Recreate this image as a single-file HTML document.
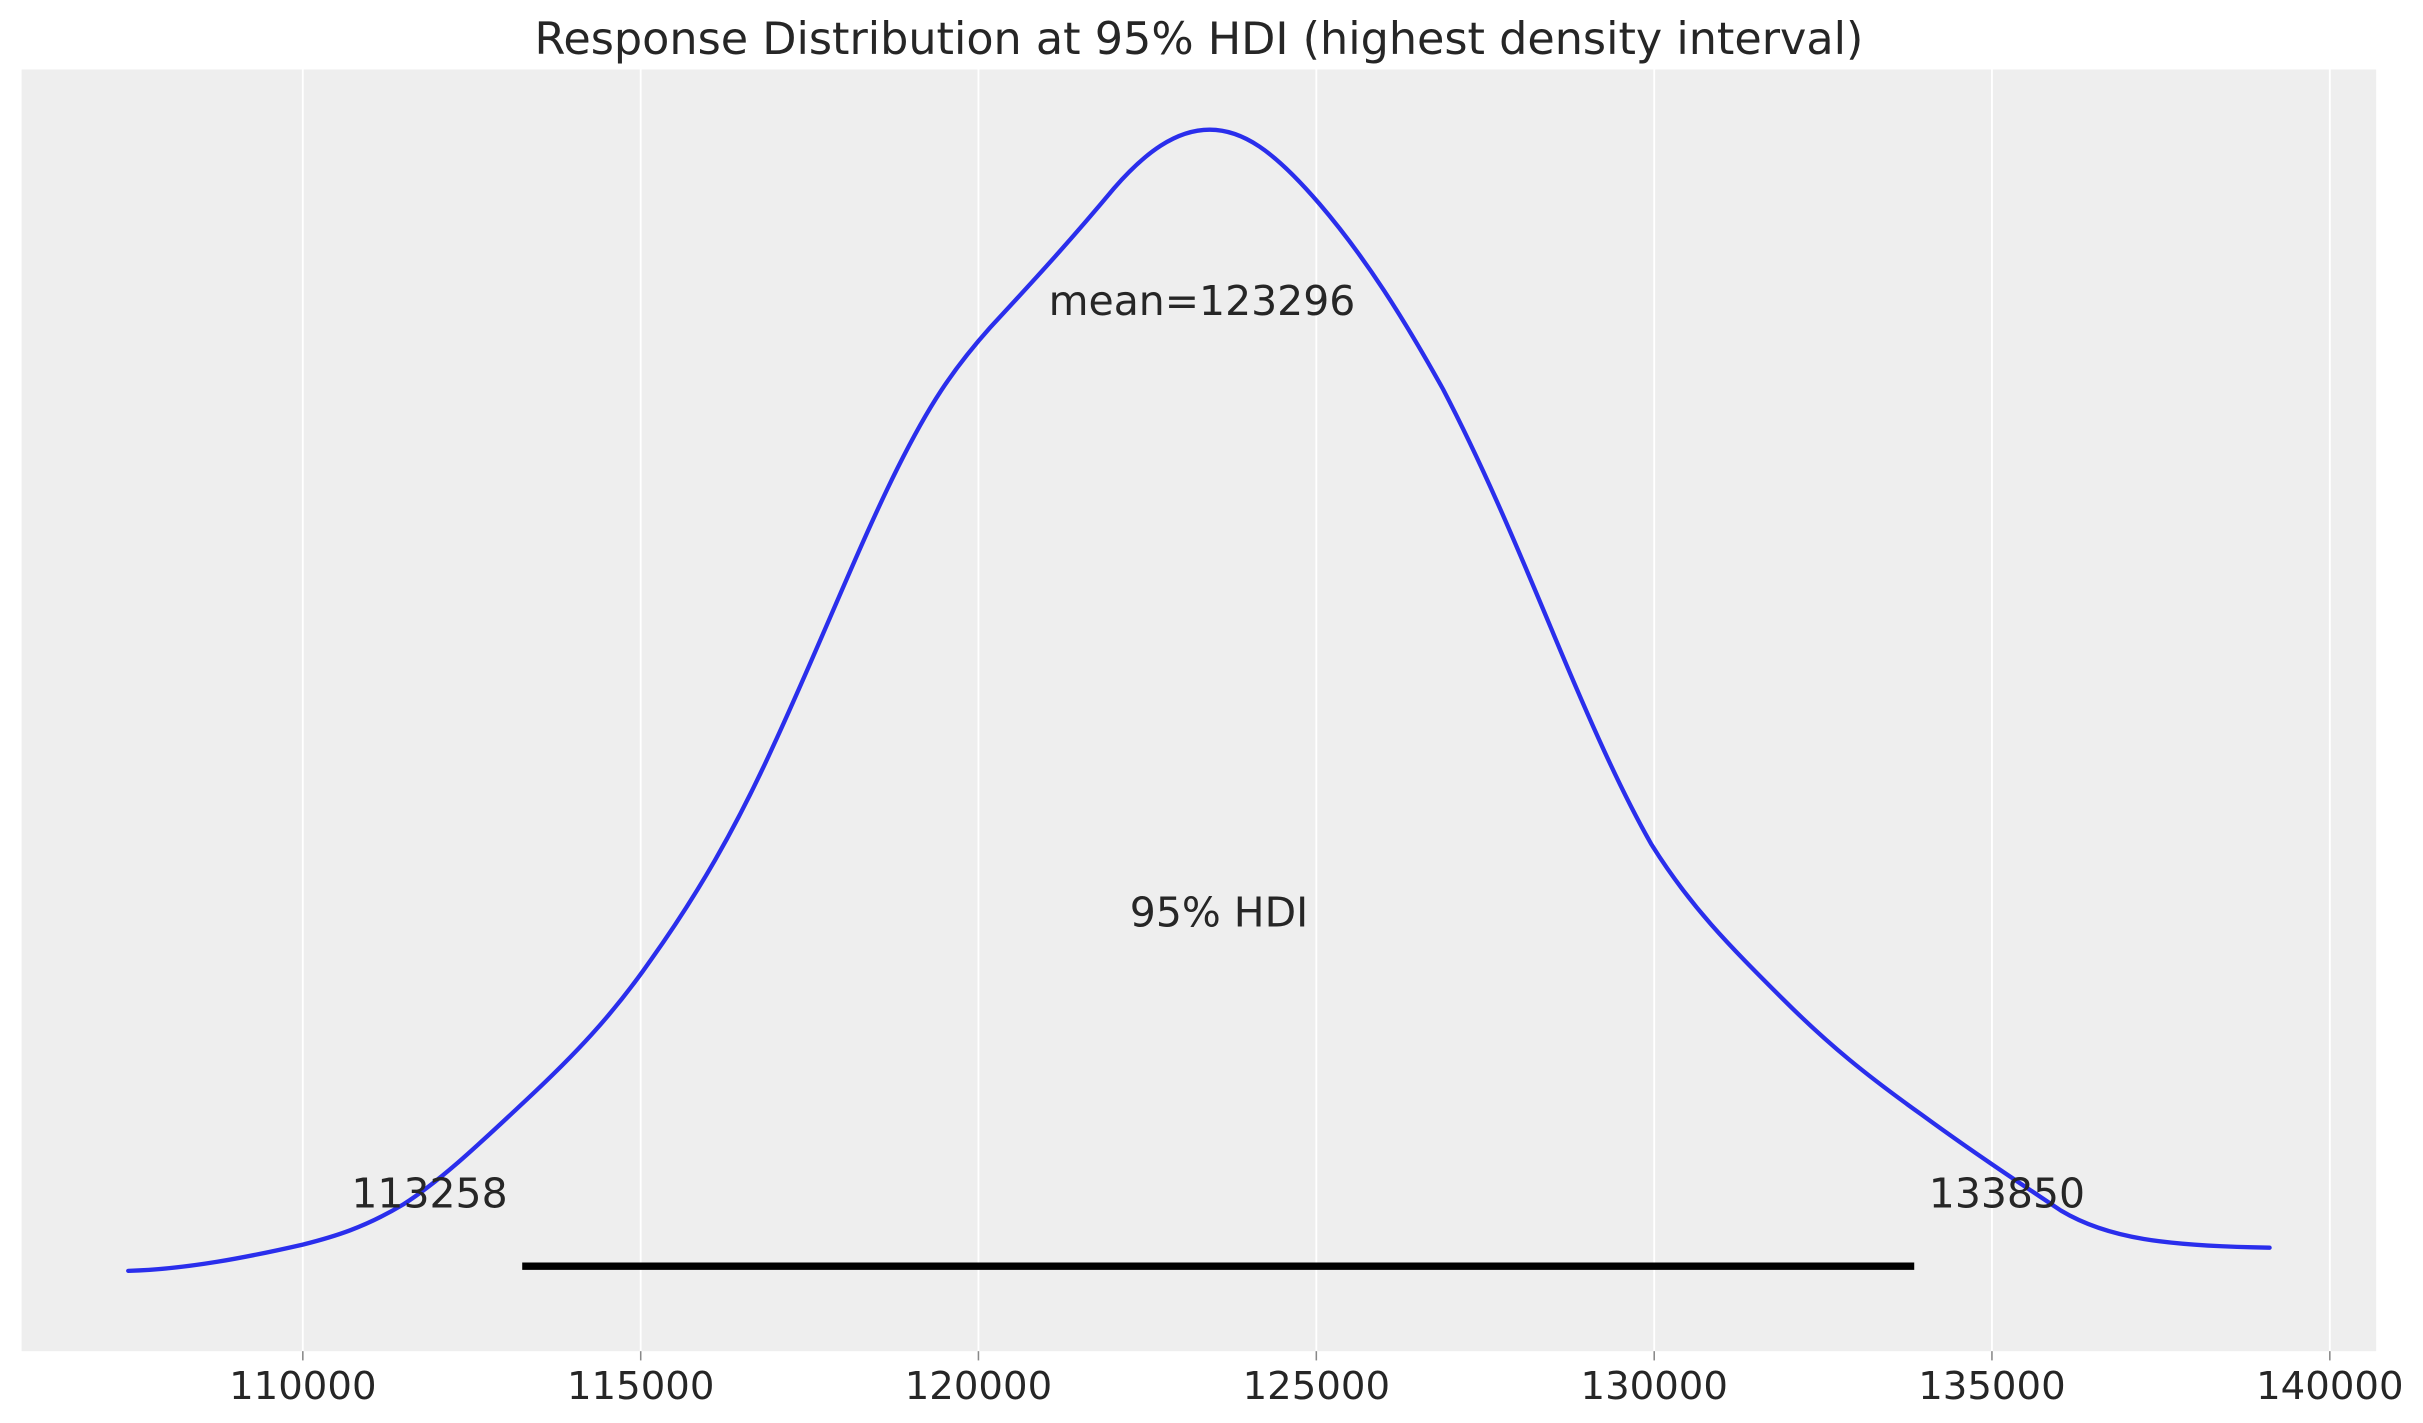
<!DOCTYPE html>
<html><head><meta charset="utf-8"><style>
html,body{margin:0;padding:0;background:#fff;}
svg{display:block;}
text{font-family:"DejaVu Sans","Liberation Sans",sans-serif;fill:#262626;}
</style></head><body>
<svg width="2423" height="1423" viewBox="0 0 1560 916" preserveAspectRatio="none" xmlns="http://www.w3.org/2000/svg">
<rect x="0" y="0" width="1560" height="916" fill="#fff"/>
<g transform="translate(1,0) scale(0.9947,0.994)">
<rect x="13" y="45" width="1524" height="830" fill="#eeeeee"/>
<g stroke="#ffffff" stroke-width="1.2">
<line x1="195" y1="45" x2="195" y2="875"/>
<line x1="413.7" y1="45" x2="413.7" y2="875"/>
<line x1="632.3" y1="45" x2="632.3" y2="875"/>
<line x1="851" y1="45" x2="851" y2="875"/>
<line x1="1069.7" y1="45" x2="1069.7" y2="875"/>
<line x1="1288.3" y1="45" x2="1288.3" y2="875"/>
<line x1="1507" y1="45" x2="1507" y2="875"/>
</g>
<g stroke="#888" stroke-width="1">
<line x1="195" y1="875" x2="195" y2="881"/>
<line x1="413.7" y1="875" x2="413.7" y2="881"/>
<line x1="632.3" y1="875" x2="632.3" y2="881"/>
<line x1="851" y1="875" x2="851" y2="881"/>
<line x1="1069.7" y1="875" x2="1069.7" y2="881"/>
<line x1="1288.3" y1="875" x2="1288.3" y2="881"/>
<line x1="1507" y1="875" x2="1507" y2="881"/>
</g>
<g font-size="25" text-anchor="middle">
<text x="195" y="906">110000</text>
<text x="413.7" y="906">115000</text>
<text x="632.3" y="906">120000</text>
<text x="851" y="906">125000</text>
<text x="1069.7" y="906">130000</text>
<text x="1288.3" y="906">135000</text>
<text x="1507" y="906">140000</text>
</g>
<text x="775" y="35" font-size="28.8" text-anchor="middle">Response Distribution at 95% HDI (highest density interval)</text>
<g transform="translate(-4,-2)">
<path d="M86,825 C124,824 164,816 199,808 C219,803 239,797 264,782 C289,766 314,742 344,714 C374,686 399,660 424,624 C454,582 479,539 504,484 C534,419 559,355 584,305 C604,265 619,242 644,214 C669,187 694,160 724,124 C744,101 764,86 786,86 C807,86 827,99 857,134 C887,169 912,209 937,254 C962,302 982,349 1007,409 C1032,469 1052,514 1072,549 C1097,589 1122,614 1157,649 C1187,679 1212,699 1247,724 C1277,746 1307,766 1337,786 C1367,804 1405,809 1472,810" fill="none" stroke="#2a2eec" stroke-width="2.8" stroke-linecap="round"/>
</g>
<line x1="337" y1="820" x2="1238" y2="820" stroke="#000" stroke-width="4.8"/>
<g font-size="26.5">
<text x="277" y="782" text-anchor="middle">113258</text>
<text x="1298" y="782" text-anchor="middle">133850</text>
<text x="777" y="204" text-anchor="middle">mean=123296</text>
<text x="788" y="600" text-anchor="middle">95% HDI</text>
</g>
</g>
</svg>
</body></html>
